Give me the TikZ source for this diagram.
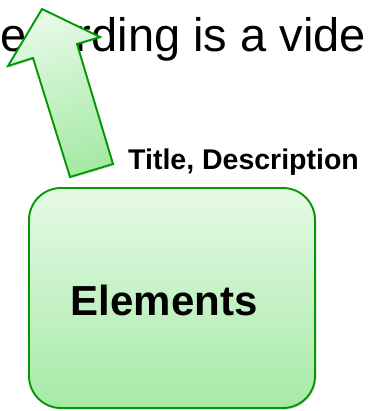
\documentclass[tikz,border=0pt]{standalone}
\usepackage{fontspec}
\setmainfont{Liberation Sans}
\usetikzlibrary{shadows}
\definecolor{edgegreen}{HTML}{009900}
\definecolor{palegreen}{HTML}{E6F9E6}
\definecolor{softgreen}{HTML}{A6EAA6}

\begin{document}
\begin{tikzpicture}[x=1pt, y=-1pt,
    greenshape/.style={draw=edgegreen, line width=1.9pt, line join=miter,
      top color=palegreen, bottom color=softgreen,
      drop shadow={shadow xshift=1.5pt, shadow yshift=-1.5pt, opacity=0.25}}]
        % Frame
        \useasboundingbox (0,0) rectangle (368,411);
        \clip (0,0) rectangle (368,411);

        % Text behind the arrow
        \node (caption) [anchor=base west, inner sep=0pt, font=\fontsize{47}{52}\selectfont] at (0,52) {ecording is a vide};

        % Arrow
        \coordinate (tip) at (42,9);
        \coordinate (rbarb) at (100,37);
        \coordinate (rin) at (77,44);
        \coordinate (rfoot) at (113,164);
        \coordinate (lfoot) at (70,177);
        \coordinate (lin) at (33,58);
        \coordinate (lbarb) at (8,66);
        \path[greenshape, shading angle=17] (tip) -- (rbarb) -- (rin) -- (rfoot) -- (lfoot) -- (lin) -- (lbarb) -- cycle;

        % Box
        \node (elements) [greenshape, rounded corners=32pt, minimum width=286pt, minimum height=220pt] at (172,298) {};
        \node (elementslabel) [font=\fontsize{42}{46}\selectfont\bfseries] at ([xshift=-8pt, yshift=-2pt]elements.center) {Elements};
        \node (title) [anchor=base west, inner sep=0pt, font=\fontsize{28.5}{32}\selectfont\bfseries] at (128,170) {Title, Description};
    \end{tikzpicture}
\end{document}
